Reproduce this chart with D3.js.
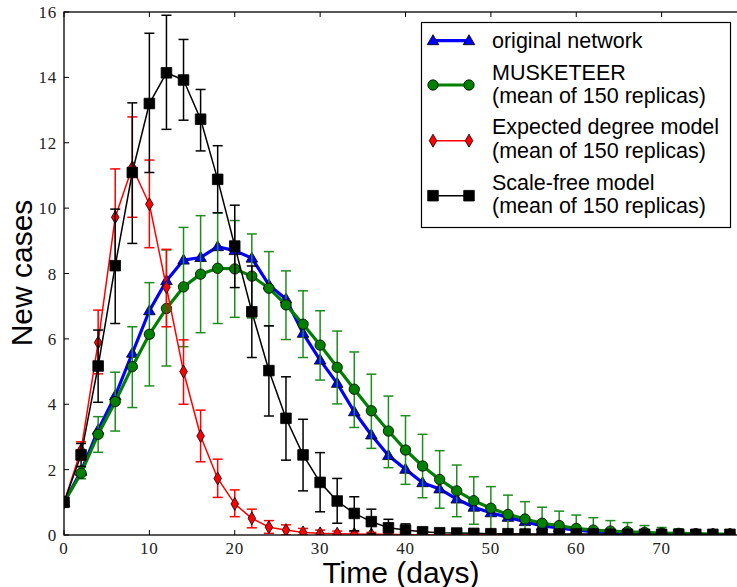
<!DOCTYPE html>
<html>
<head>
<meta charset="utf-8">
<script src="https://cdn.jsdelivr.net/npm/d3@7"></script>
<style>
  html, body { margin: 0; padding: 0; background: #fff; }
  svg { display: block; }
</style>
</head>
<body>
<svg id="chart" width="737" height="587"></svg>
<script>
// ---------------- data ----------------
const days = [0,2,4,6,8,10,12,14,16,18,20,22,24,26,28,30,32,34,36,38,40,42,44,46,48,50,52,54,56,58,60,62,64,66,68,70,72,74,76,78];

const originalNetwork = [1.0,1.95,3.21,4.26,5.56,6.86,7.78,8.41,8.49,8.82,8.70,8.47,7.65,7.22,6.17,5.35,4.64,3.77,3.06,2.43,2.01,1.60,1.41,1.10,0.85,0.68,0.54,0.41,0.28,0.22,0.15,0.10,0.07,0.05,0.04,0.03,0.02,0.02,0.01,0.01];

const musketeer = [1.0,1.89,3.08,4.08,5.15,6.14,6.93,7.59,7.98,8.16,8.14,7.92,7.55,7.04,6.45,5.81,5.13,4.46,3.80,3.18,2.60,2.11,1.70,1.35,1.05,0.82,0.63,0.49,0.36,0.29,0.20,0.15,0.12,0.10,0.08,0.06,0.05,0.04,0.03,0.03];
const musketeerHigh = [1.08,2.08,3.62,4.98,6.37,7.72,8.72,9.41,9.77,9.85,9.62,9.21,8.67,8.08,7.47,6.86,6.24,5.60,4.92,4.25,3.65,3.08,2.58,2.14,1.78,1.48,1.22,1.02,0.85,0.73,0.61,0.53,0.44,0.38,0.29,0.23,0.19,0.15,0.13,0.11];
const musketeerLow = [0.92,1.72,2.53,3.18,3.90,4.56,5.17,5.76,6.19,6.47,6.66,6.64,6.40,5.98,5.43,4.74,4.01,3.29,2.65,2.06,1.55,1.14,0.82,0.56,0.33,0.16,0.04,0,0,0,0,0,0,0,0,0,0,0,0,0];

const expectedDegree = [1.0,2.6,5.89,9.72,11.25,10.12,7.58,5.0,3.03,1.73,0.95,0.51,0.24,0.15,0.08,0.05,0.04,0.03,0.02,0.02,0.01,0.01,0.01,0.01,0.01,0.01,0.01,0.01,0.01,0.01,0.01,0.01,0.01,0.01,0.01,0.01,0.01,0.01,0.01,0.01];
const expectedDegreeHigh = [1.05,2.85,6.88,11.2,12.79,11.47,8.74,5.97,3.82,2.32,1.38,0.79,0.44,0.31,0.20,0.15,0.12,0.10,0.08,0.06,0.05,0.04,0.04,0.03,0.03,0.03,0.03,0.03,0.03,0.03,0.03,0.03,0.03,0.03,0.03,0.03,0.03,0.03,0.03,0.03];
const expectedDegreeLow = [0.95,2.3,4.93,8.24,9.72,8.79,6.37,4.0,2.24,1.15,0.56,0.22,0.05,0,0,0,0,0,0,0,0,0,0,0,0,0,0,0,0,0,0,0,0,0,0,0,0,0,0,0];

const scaleFree = [1.0,2.45,5.17,8.24,11.09,13.2,14.14,13.92,12.72,10.88,8.84,6.83,5.03,3.57,2.45,1.61,1.04,0.66,0.41,0.22,0.15,0.10,0.07,0.06,0.05,0.04,0.04,0.03,0.03,0.03,0.03,0.03,0.02,0.02,0.02,0.02,0.02,0.02,0.02,0.02];
const scaleFreeHigh = [1.05,2.8,6.27,9.97,13.22,15.35,15.9,15.16,13.63,11.91,10.09,8.23,6.40,4.84,3.54,2.52,1.73,1.17,0.79,0.48,0.34,0.22,0.15,0.12,0.10,0.09,0.08,0.07,0.07,0.06,0.06,0.06,0.05,0.05,0.05,0.05,0.05,0.05,0.05,0.05];
const scaleFreeLow = [0.95,2.1,4.06,6.47,8.92,11.09,12.41,12.69,11.75,9.86,7.57,5.43,3.64,2.29,1.35,0.71,0.36,0.13,0.03,0,0,0,0,0,0,0,0,0,0,0,0,0,0,0,0,0,0,0,0,0];

const xTicks = [0,10,20,30,40,50,60,70];
const yTicks = [0,2,4,6,8,10,12,14,16];

const legendLabels = [
  ["original network"],
  ["MUSKETEER", "(mean of 150 replicas)"],
  ["Expected degree model", "(mean of 150 replicas)"],
  ["Scale-free model", "(mean of 150 replicas)"]
];

// ---------------- layout ----------------
const svg = d3.select("#chart");
const L = 64, T = 12, R = 747, B = 535;
const x = d3.scaleLinear().domain([0, 80]).range([L, R]);
const y = d3.scaleLinear().domain([0, 16]).range([B, T]);

svg.append("defs").append("clipPath").attr("id", "plotclip")
  .append("rect").attr("x", L).attr("y", T).attr("width", R - L).attr("height", B - T);

const plot = svg.append("g").attr("clip-path", "url(#plotclip)");

// marker shapes
function markerPath(kind) {
  if (kind === "tri") return "M0,-6L5.8,4L-5.8,4Z";
  if (kind === "circ") return d3.symbol().type(d3.symbolCircle).size(Math.PI * 5.2 * 5.2)();
  if (kind === "diam") return "M0,-6.5L3.8,0L0,6.5L-3.8,0Z";
  if (kind === "sq") return "M-5.3,-5.3H5.3V5.3H-5.3Z";
}

const series = [
  { vals: originalNetwork, lo: null, hi: null, color: "#0000ff", ebar: null, lw: 3.2, marker: "tri" },
  { vals: musketeer, lo: musketeerLow, hi: musketeerHigh, color: "#008000", ebar: "#1f8c1f", lw: 3.2, marker: "circ" },
  { vals: expectedDegree, lo: expectedDegreeLow, hi: expectedDegreeHigh, color: "#ff0000", ebar: "#ff0000", lw: 1.5, marker: "diam" },
  { vals: scaleFree, lo: scaleFreeLow, hi: scaleFreeHigh, color: "#000000", ebar: "#000000", lw: 1.5, marker: "sq" }
];

series.forEach(s => {
  const g = plot.append("g");
  if (s.lo) {
    const eb = g.append("g").attr("stroke", s.ebar).attr("stroke-width", 1.5).attr("fill", "none");
    days.forEach((d, i) => {
      const px = x(d), y1 = y(s.lo[i]), y2 = y(s.hi[i]);
      eb.append("line").attr("x1", px).attr("x2", px).attr("y1", y1).attr("y2", y2);
      eb.append("line").attr("x1", px - 5).attr("x2", px + 5).attr("y1", y1).attr("y2", y1);
      eb.append("line").attr("x1", px - 5).attr("x2", px + 5).attr("y1", y2).attr("y2", y2);
    });
  }
  const line = d3.line().x((d, i) => x(days[i])).y(d => y(d));
  g.append("path").datum(s.vals).attr("d", line)
    .attr("fill", "none").attr("stroke", s.color).attr("stroke-width", s.lw)
    .attr("stroke-linejoin", "round");
  g.selectAll("path.m").data(s.vals).join("path").attr("class", "m")
    .attr("d", markerPath(s.marker))
    .attr("transform", (d, i) => `translate(${x(days[i])},${y(d)})`)
    .attr("fill", s.color).attr("stroke", "#000").attr("stroke-width", 0.8);
});

// ---------------- axes ----------------
const axG = svg.append("g");
axG.append("rect").attr("x", L).attr("y", T).attr("width", R - L).attr("height", B - T)
  .attr("fill", "none").attr("stroke", "#000").attr("stroke-width", 1.3);

const tickLen = 5;
const tickFont = "'Liberation Serif', 'DejaVu Serif', serif";
xTicks.forEach(t => {
  const px = x(t);
  axG.append("line").attr("x1", px).attr("x2", px).attr("y1", B).attr("y2", B - tickLen).attr("stroke", "#000").attr("stroke-width", 1);
  axG.append("line").attr("x1", px).attr("x2", px).attr("y1", T).attr("y2", T + tickLen).attr("stroke", "#000").attr("stroke-width", 1);
  axG.append("text").attr("x", px).attr("y", 554).attr("text-anchor", "middle")
    .attr("font-family", tickFont).attr("font-size", 17).attr("letter-spacing", 0.8).attr("fill", "#222").text(t);
});
yTicks.forEach(t => {
  const py = y(t);
  axG.append("line").attr("x1", L).attr("x2", L + tickLen).attr("y1", py).attr("y2", py).attr("stroke", "#000").attr("stroke-width", 1);
  axG.append("line").attr("x1", R).attr("x2", R - tickLen).attr("y1", py).attr("y2", py).attr("stroke", "#000").attr("stroke-width", 1);
  axG.append("text").attr("x", 57).attr("y", py + 6).attr("text-anchor", "end")
    .attr("font-family", tickFont).attr("font-size", 17).attr("letter-spacing", 0.8).attr("fill", "#222").text(t);
});

const labelFont = "'Liberation Sans', Arial, sans-serif";
svg.append("text").attr("x", 401).attr("y", 583).attr("text-anchor", "middle")
  .attr("font-family", labelFont).attr("font-size", 30).attr("fill", "#000").text("Time (days)");
svg.append("text").attr("transform", "translate(32,273) rotate(-90)").attr("text-anchor", "middle")
  .attr("font-family", labelFont).attr("font-size", 30).attr("fill", "#000").text("New cases");

// ---------------- legend ----------------
const lg = svg.append("g");
lg.append("rect").attr("x", 421.5).attr("y", 22.5).attr("width", 309).attr("height", 205)
  .attr("fill", "#fff").attr("stroke", "#000").attr("stroke-width", 1.2);
const markerY = [40.7, 85, 140.7, 195.7];
const textBase = [[47.5], [79.5, 103], [134, 157.5], [189.5, 212.5]];
series.forEach((s, k) => {
  const yy = markerY[k];
  lg.append("line").attr("x1", 433).attr("x2", 469).attr("y1", yy).attr("y2", yy)
    .attr("stroke", s.color).attr("stroke-width", s.lw);
  [433, 469].forEach(mx => {
    lg.append("path").attr("d", markerPath(s.marker)).attr("transform", `translate(${mx},${yy})`)
      .attr("fill", s.color).attr("stroke", "#000").attr("stroke-width", 0.8);
  });
  legendLabels[k].forEach((txt, j) => {
    lg.append("text").attr("x", 492).attr("y", textBase[k][j])
      .attr("font-family", labelFont).attr("font-size", 21.5).attr("fill", "#000").text(txt);
  });
});
</script>
</body>
</html>
